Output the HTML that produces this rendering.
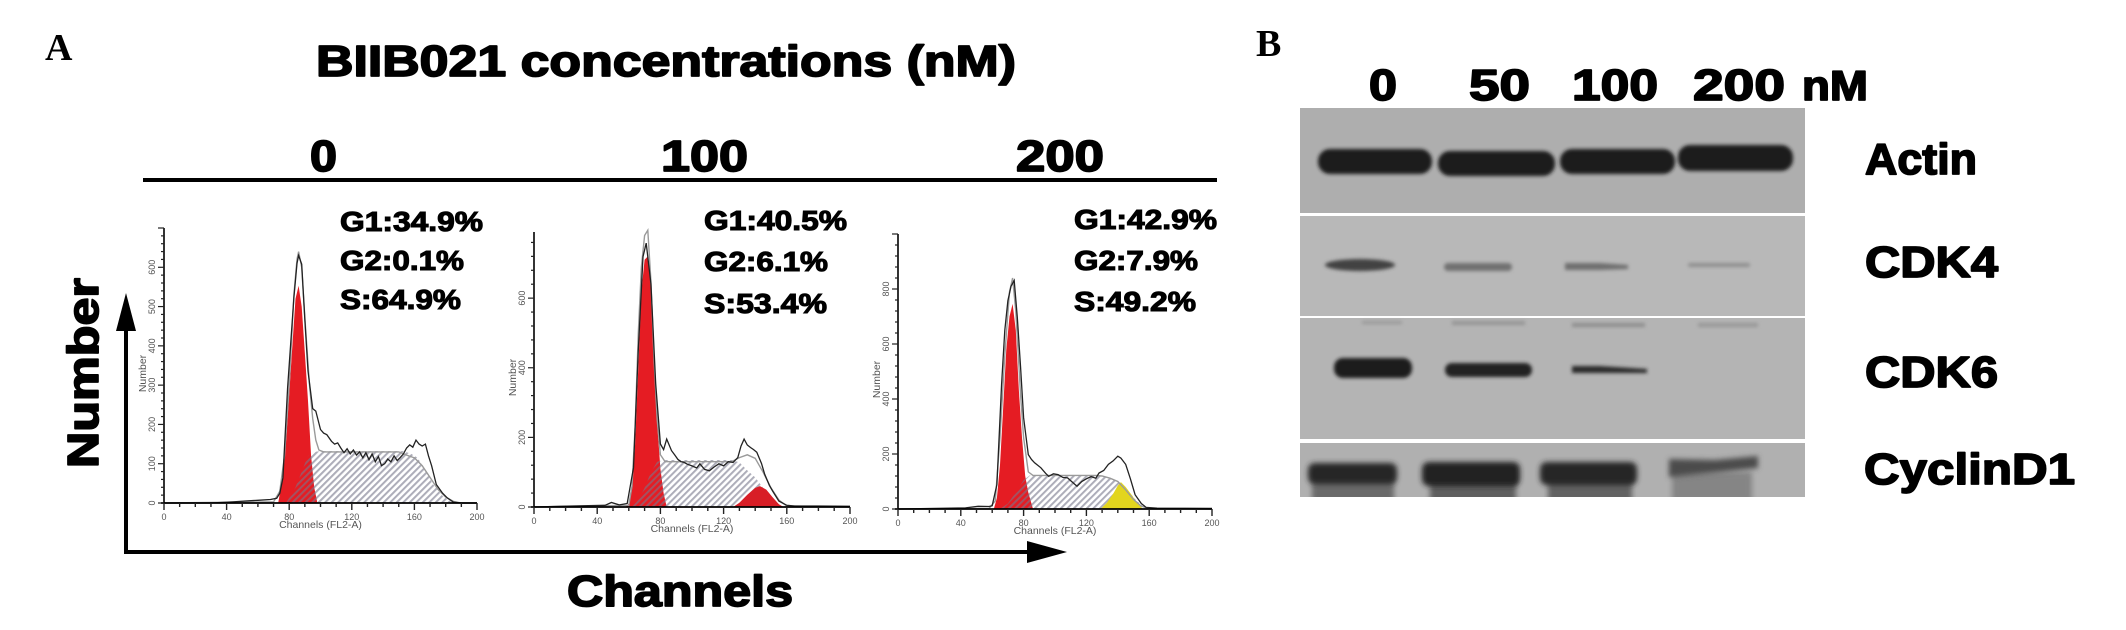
<!DOCTYPE html>
<html lang="en">
<head>
<meta charset="utf-8">
<title>BIIB021 cell cycle and western blot</title>
<style>
html,body{margin:0;padding:0;background:#fff;width:2126px;height:630px;overflow:hidden}
svg{display:block}
.heavy{font-family:"Liberation Sans",sans-serif;font-weight:700;fill:#000;stroke:#000;stroke-width:1.7px;stroke-linejoin:round}
.stat{font-family:"Liberation Sans",sans-serif;font-weight:700;fill:#000;stroke:#000;stroke-width:1.1px;font-size:28px}
.letter{font-family:"Liberation Serif",serif;font-weight:700;fill:#000;font-size:38px}
.tiny{font-family:"Liberation Sans",sans-serif;fill:#555;font-size:9px}
</style>
</head>
<body>
<svg id="figure" xmlns="http://www.w3.org/2000/svg" width="2126" height="630" viewBox="0 0 2126 630">
<defs>
<pattern id="hatch" width="4.6" height="4.6" patternUnits="userSpaceOnUse" patternTransform="rotate(45)">
<rect x="0" y="0" width="2" height="4.6" fill="#77778a" fill-opacity="0.6"></rect>
</pattern>
<filter id="b2" x="-30%" y="-80%" width="160%" height="260%"><feGaussianBlur stdDeviation="1.8"></feGaussianBlur></filter>
<filter id="b3" x="-30%" y="-80%" width="160%" height="260%"><feGaussianBlur stdDeviation="2.6"></feGaussianBlur></filter>
</defs>

<text class="letter" x="45" y="60">A</text>
<text class="letter" x="1256" y="56">B</text>

<text class="heavy" x="316" y="76" font-size="44" textLength="700" lengthAdjust="spacingAndGlyphs">BIIB021 concentrations (nM)</text>
<text class="heavy" x="310" y="171" font-size="44" textLength="27" lengthAdjust="spacingAndGlyphs">0</text>
<text class="heavy" x="661" y="171" font-size="44" textLength="87" lengthAdjust="spacingAndGlyphs">100</text>
<text class="heavy" x="1016" y="171" font-size="44" textLength="88" lengthAdjust="spacingAndGlyphs">200</text>
<rect x="143" y="178" width="1074" height="4" fill="#000"></rect>

<g>
<text class="stat" x="340" y="231" textLength="143" lengthAdjust="spacingAndGlyphs">G1:34.9%</text>
<text class="stat" x="340" y="270" textLength="124" lengthAdjust="spacingAndGlyphs">G2:0.1%</text>
<text class="stat" x="340" y="309" textLength="121" lengthAdjust="spacingAndGlyphs">S:64.9%</text>
</g>
<g>
<text class="stat" x="704" y="230" textLength="143" lengthAdjust="spacingAndGlyphs">G1:40.5%</text>
<text class="stat" x="704" y="271" textLength="124" lengthAdjust="spacingAndGlyphs">G2:6.1%</text>
<text class="stat" x="704" y="313" textLength="123" lengthAdjust="spacingAndGlyphs">S:53.4%</text>
</g>
<g>
<text class="stat" x="1074" y="229" textLength="143" lengthAdjust="spacingAndGlyphs">G1:42.9%</text>
<text class="stat" x="1074" y="270" textLength="124" lengthAdjust="spacingAndGlyphs">G2:7.9%</text>
<text class="stat" x="1074" y="311" textLength="122" lengthAdjust="spacingAndGlyphs">S:49.2%</text>
</g>

<g id="charts"></g>

<g>
<rect x="124" y="325" width="4" height="229" fill="#000"></rect>
<polygon points="126,293 116,331 136,331" fill="#000"></polygon>
</g>
<g>
<rect x="124" y="550" width="905" height="4" fill="#000"></rect>
<polygon points="1067,552 1027,541 1027,563" fill="#000"></polygon>
</g>
<text class="heavy" transform="translate(98,468) rotate(-90)" font-size="44" textLength="190" lengthAdjust="spacingAndGlyphs">Number</text>
<text class="heavy" x="567" y="606" font-size="44" textLength="226" lengthAdjust="spacingAndGlyphs">Channels</text>

<g>
<text class="heavy" x="1369" y="100" font-size="44" textLength="28" lengthAdjust="spacingAndGlyphs">0</text>
<text class="heavy" x="1469" y="100" font-size="44" textLength="61" lengthAdjust="spacingAndGlyphs">50</text>
<text class="heavy" x="1572" y="100" font-size="44" textLength="86" lengthAdjust="spacingAndGlyphs">100</text>
<text class="heavy" x="1693" y="100" font-size="44" textLength="92" lengthAdjust="spacingAndGlyphs">200</text>
<text class="heavy" x="1802" y="100" font-size="42" textLength="66" lengthAdjust="spacingAndGlyphs">nM</text>
</g>

<g>
<rect x="1300" y="108" width="505" height="105" fill="#aeaeae"></rect>
<g filter="url(#b2)">
<rect x="1318" y="149" width="114" height="25" rx="12" fill="#1f1f1f"></rect>
<rect x="1438" y="151" width="117" height="25" rx="12" fill="#1f1f1f"></rect>
<rect x="1560" y="149" width="115" height="25" rx="12" fill="#1f1f1f"></rect>
<rect x="1678" y="145" width="115" height="26" rx="12" fill="#1f1f1f"></rect>
</g>
</g>
<g>
<rect x="1300" y="216" width="505" height="100" fill="#b8b8b8"></rect>
<g filter="url(#b2)">
<ellipse cx="1360" cy="265" rx="35" ry="6" fill="#424242"></ellipse>
<rect x="1444" y="263" width="68" height="8" rx="4" fill="#717171"></rect>
<polygon points="1565,263 1600,263 1628,265 1628,269 1600,270 1565,270" fill="#6e6e6e"></polygon>
<rect x="1688" y="263" width="62" height="4" rx="2" fill="#8f8f8f"></rect>
</g>
</g>
<g>
<rect x="1300" y="318" width="505" height="121" fill="#b4b4b4"></rect>
<g filter="url(#b2)">
<rect x="1362" y="321" width="40" height="3" fill="#989898"></rect>
<rect x="1452" y="321" width="73" height="4" fill="#949494"></rect>
<rect x="1572" y="323" width="73" height="4" fill="#8e8e8e"></rect>
<rect x="1698" y="323" width="60" height="4" fill="#979797"></rect>
</g>
<g filter="url(#b2)">
<rect x="1334" y="358" width="78" height="20" rx="9" fill="#1e1e1e"></rect>
<rect x="1445" y="363" width="87" height="14" rx="7" fill="#222"></rect>
<polygon points="1572,366 1600,366 1647,369 1647,373 1600,373 1572,373" fill="#2a2a2a"></polygon>
</g>
</g>
<g>
<clipPath id="cyclinClip"><rect x="1300" y="443" width="505" height="54"></rect></clipPath>
<rect x="1300" y="443" width="505" height="54" fill="#b0b0b0"></rect>
<g clip-path="url(#cyclinClip)">
<g filter="url(#b3)" fill="#6a6a6a">
<rect x="1312" y="478" width="82" height="24"></rect>
<rect x="1430" y="478" width="86" height="24" fill="#5e5e5e"></rect>
<rect x="1548" y="478" width="84" height="24" fill="#626262"></rect>
<rect x="1672" y="472" width="80" height="30" fill="#858585"></rect>
</g>
<g filter="url(#b3)">
<rect x="1308" y="463" width="89" height="21" rx="7" fill="#262626"></rect>
<rect x="1422" y="462" width="98" height="24" rx="7" fill="#242424"></rect>
<rect x="1540" y="462" width="97" height="23" rx="7" fill="#262626"></rect>
<polygon points="1669,459 1715,460 1758,456 1758,468 1720,472 1669,477" fill="#4c4c4c"></polygon>
</g>
</g>
</g>

<g>
<text class="heavy" x="1865" y="174" font-size="44" textLength="112" lengthAdjust="spacingAndGlyphs">Actin</text>
<text class="heavy" x="1865" y="277" font-size="44" textLength="133" lengthAdjust="spacingAndGlyphs">CDK4</text>
<text class="heavy" x="1865" y="387" font-size="44" textLength="133" lengthAdjust="spacingAndGlyphs">CDK6</text>
<text class="heavy" x="1864" y="484" font-size="44" textLength="211" lengthAdjust="spacingAndGlyphs">CyclinD1</text>
</g>
</svg>

<script>
// Panel 0 nM
const dose0HistChannels = [0,30,45,52,60,68,72,74,76,79,83,85,86,88,90,92,95,97,100,102,104,107,109,111,113,115,117,119,121,123,125,127,129,131,133,135,137,139,141,143,145,147,149,151,153,155,157,159,161,163,165,167,169,171,174,178,181,185,190,200];
const dose0HistCounts = [0,0,3,5,7,9,12,25,64,293,523,610,630,608,464,336,240,234,187,178,174,157,150,153,140,128,138,125,135,122,130,115,128,110,125,105,118,95,100,112,105,120,108,116,125,140,148,142,160,150,145,150,120,95,47,25,13,2,0,0];
const dose0FitChannels = [0,70,74,77,80,83,85,86,88,90,93,95,97,99,102,110,150,155,160,165,170,175,180,185,190,200];
const dose0FitCounts = [0,3,30,120,300,530,620,640,600,470,300,215,160,135,130,130,130,122,115,95,65,35,15,4,0,0];
const dose0G1Channels = [73,76,78,81,84,86,88,90,92,94,96,98];
const dose0G1Counts = [0,70,160,340,520,553,500,380,260,120,40,0];
const dose0SChannels = [78,84,88,92,96,100,153,158,162,166,172,178,183,186];
const dose0SCounts = [0,40,80,120,130,132,132,125,115,90,47,18,4,0];
const dose0YTicks = [0,100,200,300,400,500,600];

// Panel 100 nM
const dose100HistChannels = [0,17,45,49,54,59,63,66,69,71,74,77,80,82,84,87,89,91,93,95,97,100,103,105,108,111,114,117,120,123,126,129,131,133,135,137,139,141,144,146,149,151,155,160,165,180,200];
const dose100HistCounts = [0,2,5,13,6,10,113,450,719,758,642,354,181,165,195,162,150,137,130,128,123,118,112,124,108,104,115,124,118,130,128,142,175,195,178,171,165,157,125,94,62,46,17,5,3,3,2];
const dose100FitChannels = [0,60,62,64,66,68,70,72,74,76,78,80,83,90,125,130,135,140,145,150,155,160,200];
const dose100FitCounts = [0,5,60,230,500,690,780,795,650,420,250,150,130,130,130,142,150,140,100,55,20,3,0];
const dose100G1Channels = [58,60,62,64,66,68,70,72,74,76,78,80,82,84];
const dose100G1Counts = [0,10,50,180,400,620,710,720,640,430,240,110,40,0];
const dose100SChannels = [62,66,70,74,78,82,125,130,135,140,145,150,155];
const dose100SCounts = [0,20,55,100,130,135,135,128,105,85,55,25,0];
const dose100G2Channels = [126,130,135,140,143,147,151,155,158];
const dose100G2Counts = [0,12,35,55,60,50,28,8,0];
const dose100YTicks = [0,200,400,600];

// Panel 200 nM
const dose200HistChannels = [0,43,51,58,60,63,66,68,70,72,74,76,78,80,83,85,87,91,94,96,99,102,105,108,111,114,117,120,123,126,128,131,134,137,140,142,145,148,151,155,158,165,200];
const dose200HistCounts = [0,4,10,9,12,89,454,650,758,810,831,697,520,332,198,180,168,150,130,119,128,125,115,113,98,83,100,110,118,112,131,140,162,175,192,185,162,110,52,20,6,3,2];
const dose200FitChannels = [0,58,62,65,68,71,73,75,78,80,83,86,90,126,130,135,140,145,150,155,160,200];
const dose200FitCounts = [0,2,30,260,560,790,840,720,420,260,135,122,122,122,120,112,100,70,35,10,2,0];
const dose200G1Channels = [61,63,65,67,69,71,73,75,77,79,81,83,86];
const dose200G1Counts = [0,40,160,370,580,700,746,650,430,260,120,60,0];
const dose200SChannels = [65,70,75,80,84,128,132,138,142,146,152,158];
const dose200SCounts = [0,20,60,105,123,123,115,105,90,70,30,0];
const dose200G2Channels = [129,133,137,140,142,145,149,152,156];
const dose200G2Counts = [0,22,55,85,98,80,50,25,0];
const dose200YTicks = [0,200,400,600,800];

const xTicks = [0,40,80,120,160,200];

const SVGNS = 'http://www.w3.org/2000/svg';
const chartsRoot = document.getElementById('charts');

function svgEl(tag, parent) {
  const el = document.createElementNS(SVGNS, tag);
  parent.appendChild(el);
  return el;
}
function pathFor(xs, ys, sx, sy, closeToBase) {
  let d = '';
  xs.forEach(function (x, i) {
    d += (i ? 'L' : 'M') + sx(x).toFixed(1) + ' ' + sy(ys[i]).toFixed(1);
  });
  return closeToBase ? d + 'Z' : d;
}

function drawPanel(p) {
  const sx = function (c) { return p.left + (c / 200) * (p.right - p.left); };
  const sy = function (v) { return p.base - (v / p.yMax) * (p.base - p.top); };
  const g = svgEl('g', chartsRoot);
  
  

  const g1 = svgEl('path', g);
  g1.setAttribute('d', pathFor(p.g1x, p.g1y, sx, sy, true));
  g1.setAttribute('fill', '#e51c23');
  
  

  const s = svgEl('path', g);
  s.setAttribute('d', pathFor(p.sx, p.sy, sx, sy, true));
  s.setAttribute('fill', 'url(#hatch)');
  
  

  if (p.g2x) {
    const g2 = svgEl('path', g);
    g2.setAttribute('d', pathFor(p.g2x, p.g2y, sx, sy, true));
    g2.setAttribute('fill', p.g2color);
    
    
  }

  const fit = svgEl('path', g);
  fit.setAttribute('d', pathFor(p.fitx, p.fity, sx, sy, false));
  fit.setAttribute('fill', 'none');
  fit.setAttribute('stroke', '#9a9a9a');
  fit.setAttribute('stroke-width', '1.4');
  
  

  const hist = svgEl('path', g);
  hist.setAttribute('d', pathFor(p.hx, p.hy, sx, sy, false));
  hist.setAttribute('fill', 'none');
  hist.setAttribute('stroke', '#222');
  hist.setAttribute('stroke-width', '1.3');
  
  

  const axisY = svgEl('line', g);
  axisY.setAttribute('x1', p.left);
  axisY.setAttribute('x2', p.left);
  axisY.setAttribute('y1', p.top);
  axisY.setAttribute('y2', p.base);
  axisY.setAttribute('stroke', '#000');
  axisY.setAttribute('stroke-width', '1.6');
  
  

  const axisX = svgEl('line', g);
  axisX.setAttribute('x1', p.left - 3);
  axisX.setAttribute('x2', p.right);
  axisX.setAttribute('y1', p.base);
  axisX.setAttribute('y2', p.base);
  axisX.setAttribute('stroke', '#000');
  axisX.setAttribute('stroke-width', '1.8');
  
  

  for (let c = 0; c <= 200; c += 10) {
    const major = c % 40 === 0;
    const t = svgEl('line', g);
    t.setAttribute('x1', sx(c));
    t.setAttribute('x2', sx(c));
    t.setAttribute('y1', p.base);
    t.setAttribute('y2', p.base + (major ? 7 : 4));
    t.setAttribute('stroke', '#222');
    t.setAttribute('stroke-width', '1.4');
    
    
  }
  for (let v = 0; v <= p.yMax; v += p.yMinor) {
    const major = v % p.yMajor === 0;
    const t = svgEl('line', g);
    t.setAttribute('x1', p.left - (major ? 6 : 3));
    t.setAttribute('x2', p.left);
    t.setAttribute('y1', sy(v));
    t.setAttribute('y2', sy(v));
    t.setAttribute('stroke', '#222');
    t.setAttribute('stroke-width', '1.2');
    
    
  }
  xTicks.forEach(function (c) {
    const t = svgEl('text', g);
    t.setAttribute('class', 'tiny');
    t.setAttribute('x', sx(c));
    t.setAttribute('y', p.base + 17);
    t.setAttribute('text-anchor', 'middle');
    t.textContent = c;
    
    
  });
  p.yTicks.forEach(function (v) {
    const t = svgEl('text', g);
    t.setAttribute('class', 'tiny');
    t.setAttribute('transform', 'translate(' + (p.left - 9) + ',' + sy(v) + ') rotate(-90)');
    t.setAttribute('text-anchor', 'middle');
    t.textContent = v;
    
    
  });
  const xTitle = svgEl('text', g);
  xTitle.setAttribute('class', 'tiny');
  xTitle.setAttribute('x', (p.left + p.right) / 2);
  xTitle.setAttribute('y', p.base + 25);
  xTitle.setAttribute('text-anchor', 'middle');
  xTitle.style.fontSize = '10.5px';
  xTitle.textContent = 'Channels (FL2-A)';
  
  

  const yTitle = svgEl('text', g);
  yTitle.setAttribute('class', 'tiny');
  yTitle.setAttribute('transform', 'translate(' + (p.left - 18) + ',' + ((p.top + p.base) / 2 + 8) + ') rotate(-90)');
  yTitle.setAttribute('text-anchor', 'middle');
  yTitle.style.fontSize = '10.5px';
  yTitle.textContent = 'Number';
  
  
}

drawPanel({id:'0nm', left:164, right:477, top:228, base:503, yMax:700, yMajor:100, yMinor:20, yTicks:dose0YTicks,
  hx:dose0HistChannels, hy:dose0HistCounts, fitx:dose0FitChannels, fity:dose0FitCounts,
  g1x:dose0G1Channels, g1y:dose0G1Counts, sx:dose0SChannels, sy:dose0SCounts});
drawPanel({id:'100nm', left:534, right:850, top:232, base:507, yMax:790, yMajor:200, yMinor:40, yTicks:dose100YTicks,
  hx:dose100HistChannels, hy:dose100HistCounts, fitx:dose100FitChannels, fity:dose100FitCounts,
  g1x:dose100G1Channels, g1y:dose100G1Counts, sx:dose100SChannels, sy:dose100SCounts,
  g2x:dose100G2Channels, g2y:dose100G2Counts, g2color:'#d81e26'});
drawPanel({id:'200nm', left:898, right:1212, top:234, base:509, yMax:1000, yMajor:200, yMinor:40, yTicks:dose200YTicks,
  hx:dose200HistChannels, hy:dose200HistCounts, fitx:dose200FitChannels, fity:dose200FitCounts,
  g1x:dose200G1Channels, g1y:dose200G1Counts, sx:dose200SChannels, sy:dose200SCounts,
  g2x:dose200G2Channels, g2y:dose200G2Counts, g2color:'#e2d51e'});
</script>
</body>
</html>
